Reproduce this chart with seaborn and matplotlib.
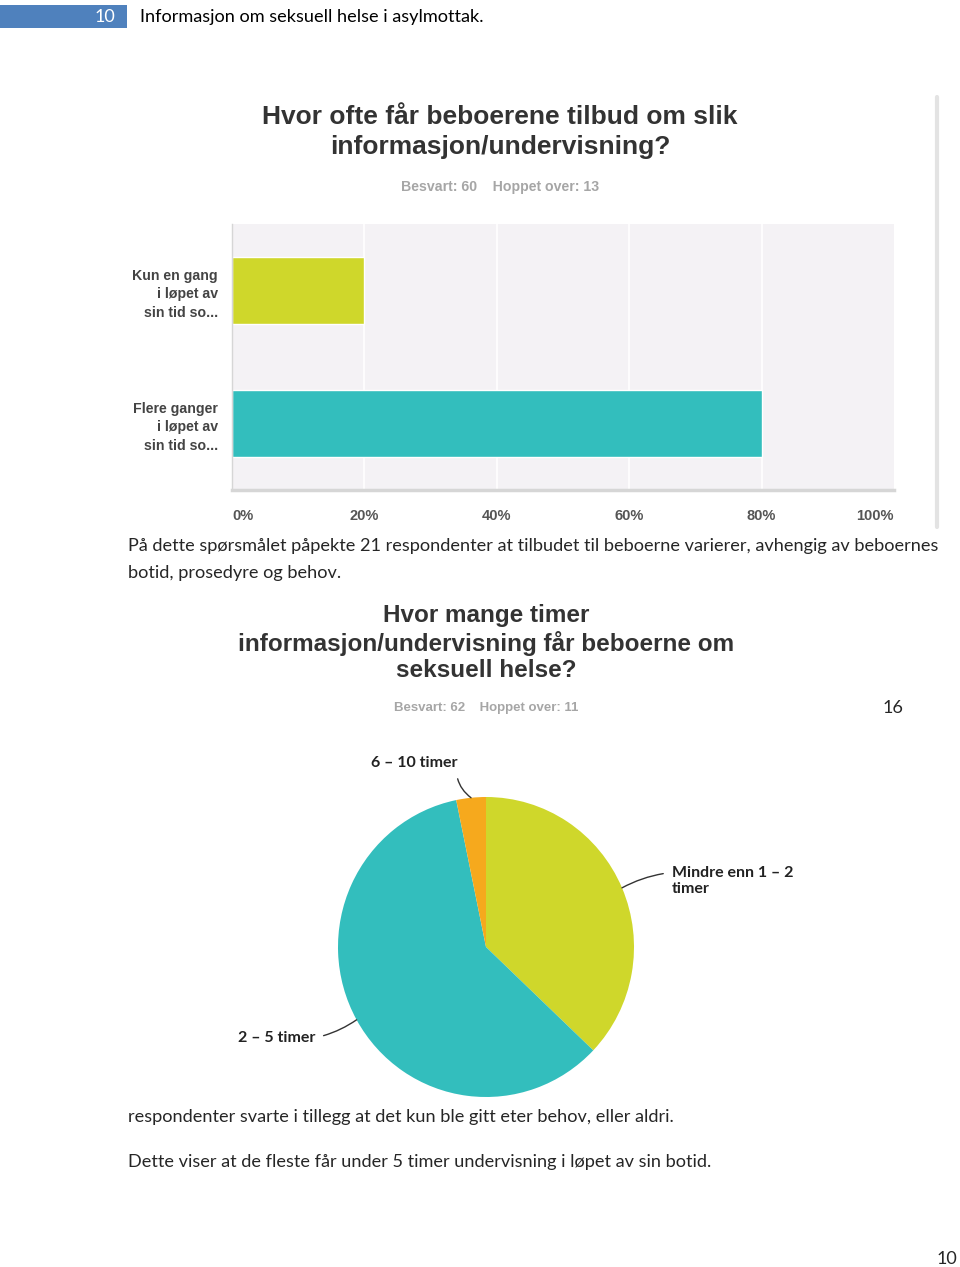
import matplotlib
matplotlib.use("Agg")
import matplotlib.pyplot as plt
import seaborn as sns
import numpy as np
import pandas as pd
from matplotlib.patches import Rectangle
from matplotlib.lines import Line2D

# ---------------- data ----------------
bar_categories = ["Kun en gang\ni løpet av\nsin tid so...", "Flere ganger\ni løpet av\nsin tid so..."]
bar_values = [20, 80]
bar_ticks = [0, 20, 40, 60, 80, 100]
bar_tick_labels = ["0%", "20%", "40%", "60%", "80%", "100%"]

pie_labels = ["Mindre enn 1 – 2\ntimer", "2 – 5 timer", "6 – 10 timer"]
pie_counts = [23, 37, 2]

bar_title = "Hvor ofte får beboerene tilbud om slik\ninformasjon/undervisning?"
bar_sub = "Besvart: 60    Hoppet over: 13"
pie_title = "Hvor mange timer\ninformasjon/undervisning får beboerne om\nseksuell helse?"
pie_sub = "Besvart: 62    Hoppet over: 11"

# ---------------- style ----------------
sns.set_theme(style="white")
plt.rcParams['font.family'] = ['Lato', 'DejaVu Sans']
NARROW = ['Liberation Sans', 'DejaVu Sans']
BODY = ['Lato', 'DejaVu Sans']

YELLOW = "#cfd72b"
TEAL = "#33bebd"
ORANGE = "#f6a91d"
W, H = 960, 1267

fig = plt.figure(figsize=(W / 100, H / 100), dpi=100)
fig.patch.set_facecolor("white")

def fx(x):
    return x / W

def fy(y):
    return 1 - y / H

# ---------------- header ----------------
fig.patches.append(Rectangle((0, fy(28)), fx(127), (28 - 5) / H, transform=fig.transFigure,
                             facecolor="#4f81bd", edgecolor="none"))
fig.text(fx(115), fy(17), "10", color="white", fontsize=13, ha="right", va="center", family=BODY)
fig.text(fx(140), fy(17), "Informasjon om seksuell helse i asylmottak.", color="black",
         fontsize=13.1, ha="left", va="center", family=BODY)

# screenshot border line
fig.lines.append(Line2D([fx(937), fx(937)], [fy(97), fy(527)], transform=fig.transFigure,
                        color="#e3e3e3", lw=3))

# ---------------- bar chart ----------------
fig.text(fx(500), fy(132), bar_title, ha="center", va="center", fontsize=19, fontweight="bold",
         color="#333333", family=NARROW, linespacing=1.3)
fig.text(fx(500), fy(187), bar_sub, ha="center", va="center", fontsize=10.2, fontweight="bold",
         color="#a6a6a6", family=NARROW)

ax1 = fig.add_axes([fx(232), fy(490), (894 - 232) / W, (490 - 224) / H])
df_bar = pd.DataFrame({"cat": bar_categories, "val": bar_values})
sns.barplot(data=df_bar, x="val", y="cat", hue="cat", palette=[YELLOW, TEAL], orient="h",
            width=0.5, ax=ax1, legend=False, saturation=1)
ax1.set_facecolor("#f4f2f5")
ax1.set_xlim(0, 100)
ax1.set_ylim(1.5, -0.5)
ax1.set_xticks(bar_ticks)
ax1.set_xticklabels(bar_tick_labels)
ax1.set_xlabel("")
ax1.set_ylabel("")
for x in bar_ticks[1:-1]:
    ax1.axvline(x, color="white", lw=1.2, zorder=0)
ax1.set_axisbelow(True)
for s in ["top", "right"]:
    ax1.spines[s].set_visible(False)
ax1.spines["bottom"].set_color("#d6d6d6")
ax1.spines["bottom"].set_linewidth(2.5)
ax1.spines["left"].set_color("#d6d6d6")
ax1.spines["left"].set_linewidth(1)
ax1.tick_params(axis="x", length=0, pad=14, labelsize=10.5, labelcolor="#555555")
ax1.tick_params(axis="y", length=0, pad=10, labelsize=10.2, labelcolor="#444444")
for lab in ax1.get_xticklabels():
    lab.set_family(NARROW)
    lab.set_fontweight("bold")
xl = ax1.get_xticklabels()
xl[0].set_ha("left")
xl[-1].set_ha("right")
for lab in ax1.get_yticklabels():
    lab.set_family(NARROW)
    lab.set_fontweight("bold")
    lab.set_linespacing(1.4)
    lab.set_ha("right")

# ---------------- body text ----------------
fig.text(fx(128), fy(546), "På dette spørsmålet påpekte 21 respondenter at tilbudet til beboerne varierer, avhengig av beboernes",
         fontsize=13.05, ha="left", va="center", family=BODY)
fig.text(fx(128), fy(573), "botid, prosedyre og behov.", fontsize=13.05, ha="left", va="center", family=BODY)

# ---------------- pie chart ----------------
fig.text(fx(486), fy(643), pie_title, ha="center", va="center", fontsize=17.5, fontweight="bold",
         color="#333333", family=NARROW, linespacing=1.2)
fig.text(fx(486), fy(708), pie_sub, ha="center", va="center", fontsize=9.5, fontweight="bold",
         color="#a6a6a6", family=NARROW)
fig.text(fx(893), fy(708), "16", fontsize=13, ha="center", va="center", family=BODY)

ax2 = fig.add_axes([fx(486 - 148), fy(947 + 150), 296 / W, 300 / H])
wedges, _ = ax2.pie(pie_counts, colors=[YELLOW, TEAL, ORANGE], startangle=90, counterclock=False,
                    wedgeprops=dict(linewidth=0))
ax2.set_xlim(-1, 1)
ax2.set_ylim(-1, 1)
ax2.set_aspect("auto")
ax2.axis("off")

label_offsets = [(36, 5), (-30, -13), (-10, 25)]
label_ha = ["left", "right", "right"]
label_rad = [0.1, 0.1, 0.3]
label_rel = [(0.0, 0.78), (1.0, 0.5), (1.0, 0.5)]
for w, lab, off, ha, rad, rel in zip(wedges, pie_labels, label_offsets, label_ha, label_rad, label_rel):
    ang = np.deg2rad((w.theta1 + w.theta2) / 2)
    x, y = np.cos(ang), np.sin(ang)
    ax2.annotate(lab, xy=(x, y), xycoords="data", xytext=off, textcoords="offset points",
                 ha=ha, va="center", fontsize=11.5, fontweight="bold", color="#222222",
                 family=BODY, annotation_clip=False, linespacing=1.2,
                 arrowprops=dict(arrowstyle="-", color="#333333", lw=1, relpos=rel,
                                 connectionstyle=f"arc3,rad={rad}", shrinkA=4, shrinkB=0))

# ---------------- closing text ----------------
fig.text(fx(128), fy(1117), "respondenter svarte i tillegg at det kun ble gitt eter behov, eller aldri.",
         fontsize=13.05, ha="left", va="center", family=BODY)
fig.text(fx(128), fy(1162), "Dette viser at de fleste får under 5 timer undervisning i løpet av sin botid.",
         fontsize=13.05, ha="left", va="center", family=BODY)
fig.text(fx(957), fy(1259), "10", fontsize=13, ha="right", va="center", family=BODY)

fig.savefig("out.png", dpi=100, facecolor="white")
